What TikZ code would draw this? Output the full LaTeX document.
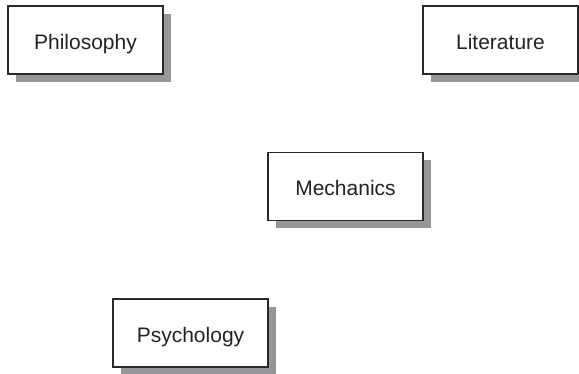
\documentclass[tikz,border=0pt]{standalone}
\usepackage{fontspec}
\setmainfont{Liberation Sans}
\usepackage{tikz}
\usetikzlibrary{shadows}
\definecolor{corBorda}{RGB}{40,40,40}
\definecolor{corSombra}{RGB}{150,150,154}
\definecolor{corTexto}{RGB}{35,35,35}
\tikzset{
  caixa/.style={draw=corBorda, line width=1.1pt, fill=white,
    minimum width=155pt, minimum height=68pt, inner sep=0pt,
    text height=18pt, text depth=0pt,
    text=corTexto, font=\fontsize{21}{24}\selectfont,
    drop shadow={shadow xshift=7.5pt, shadow yshift=-7.5pt,
      fill=corSombra, opacity=1}}
}
\begin{document}
\begin{tikzpicture}[x=1pt, y=-1pt]
    \useasboundingbox (0,0) rectangle (579,373);
          % caixa 0
        \node[caixa] (philosophy) at (85.5,40) {Philosophy};

          % caixa 1
        \node[caixa] (literature) at (500.5,40) {Literature};

          % caixa 2
        \node[caixa] (mechanics) at (345.5,186.5) {Mechanics};

          % caixa 3
        \node[caixa] (psychology) at (190.5,333) {Psychology};
\end{tikzpicture}
\end{document}
